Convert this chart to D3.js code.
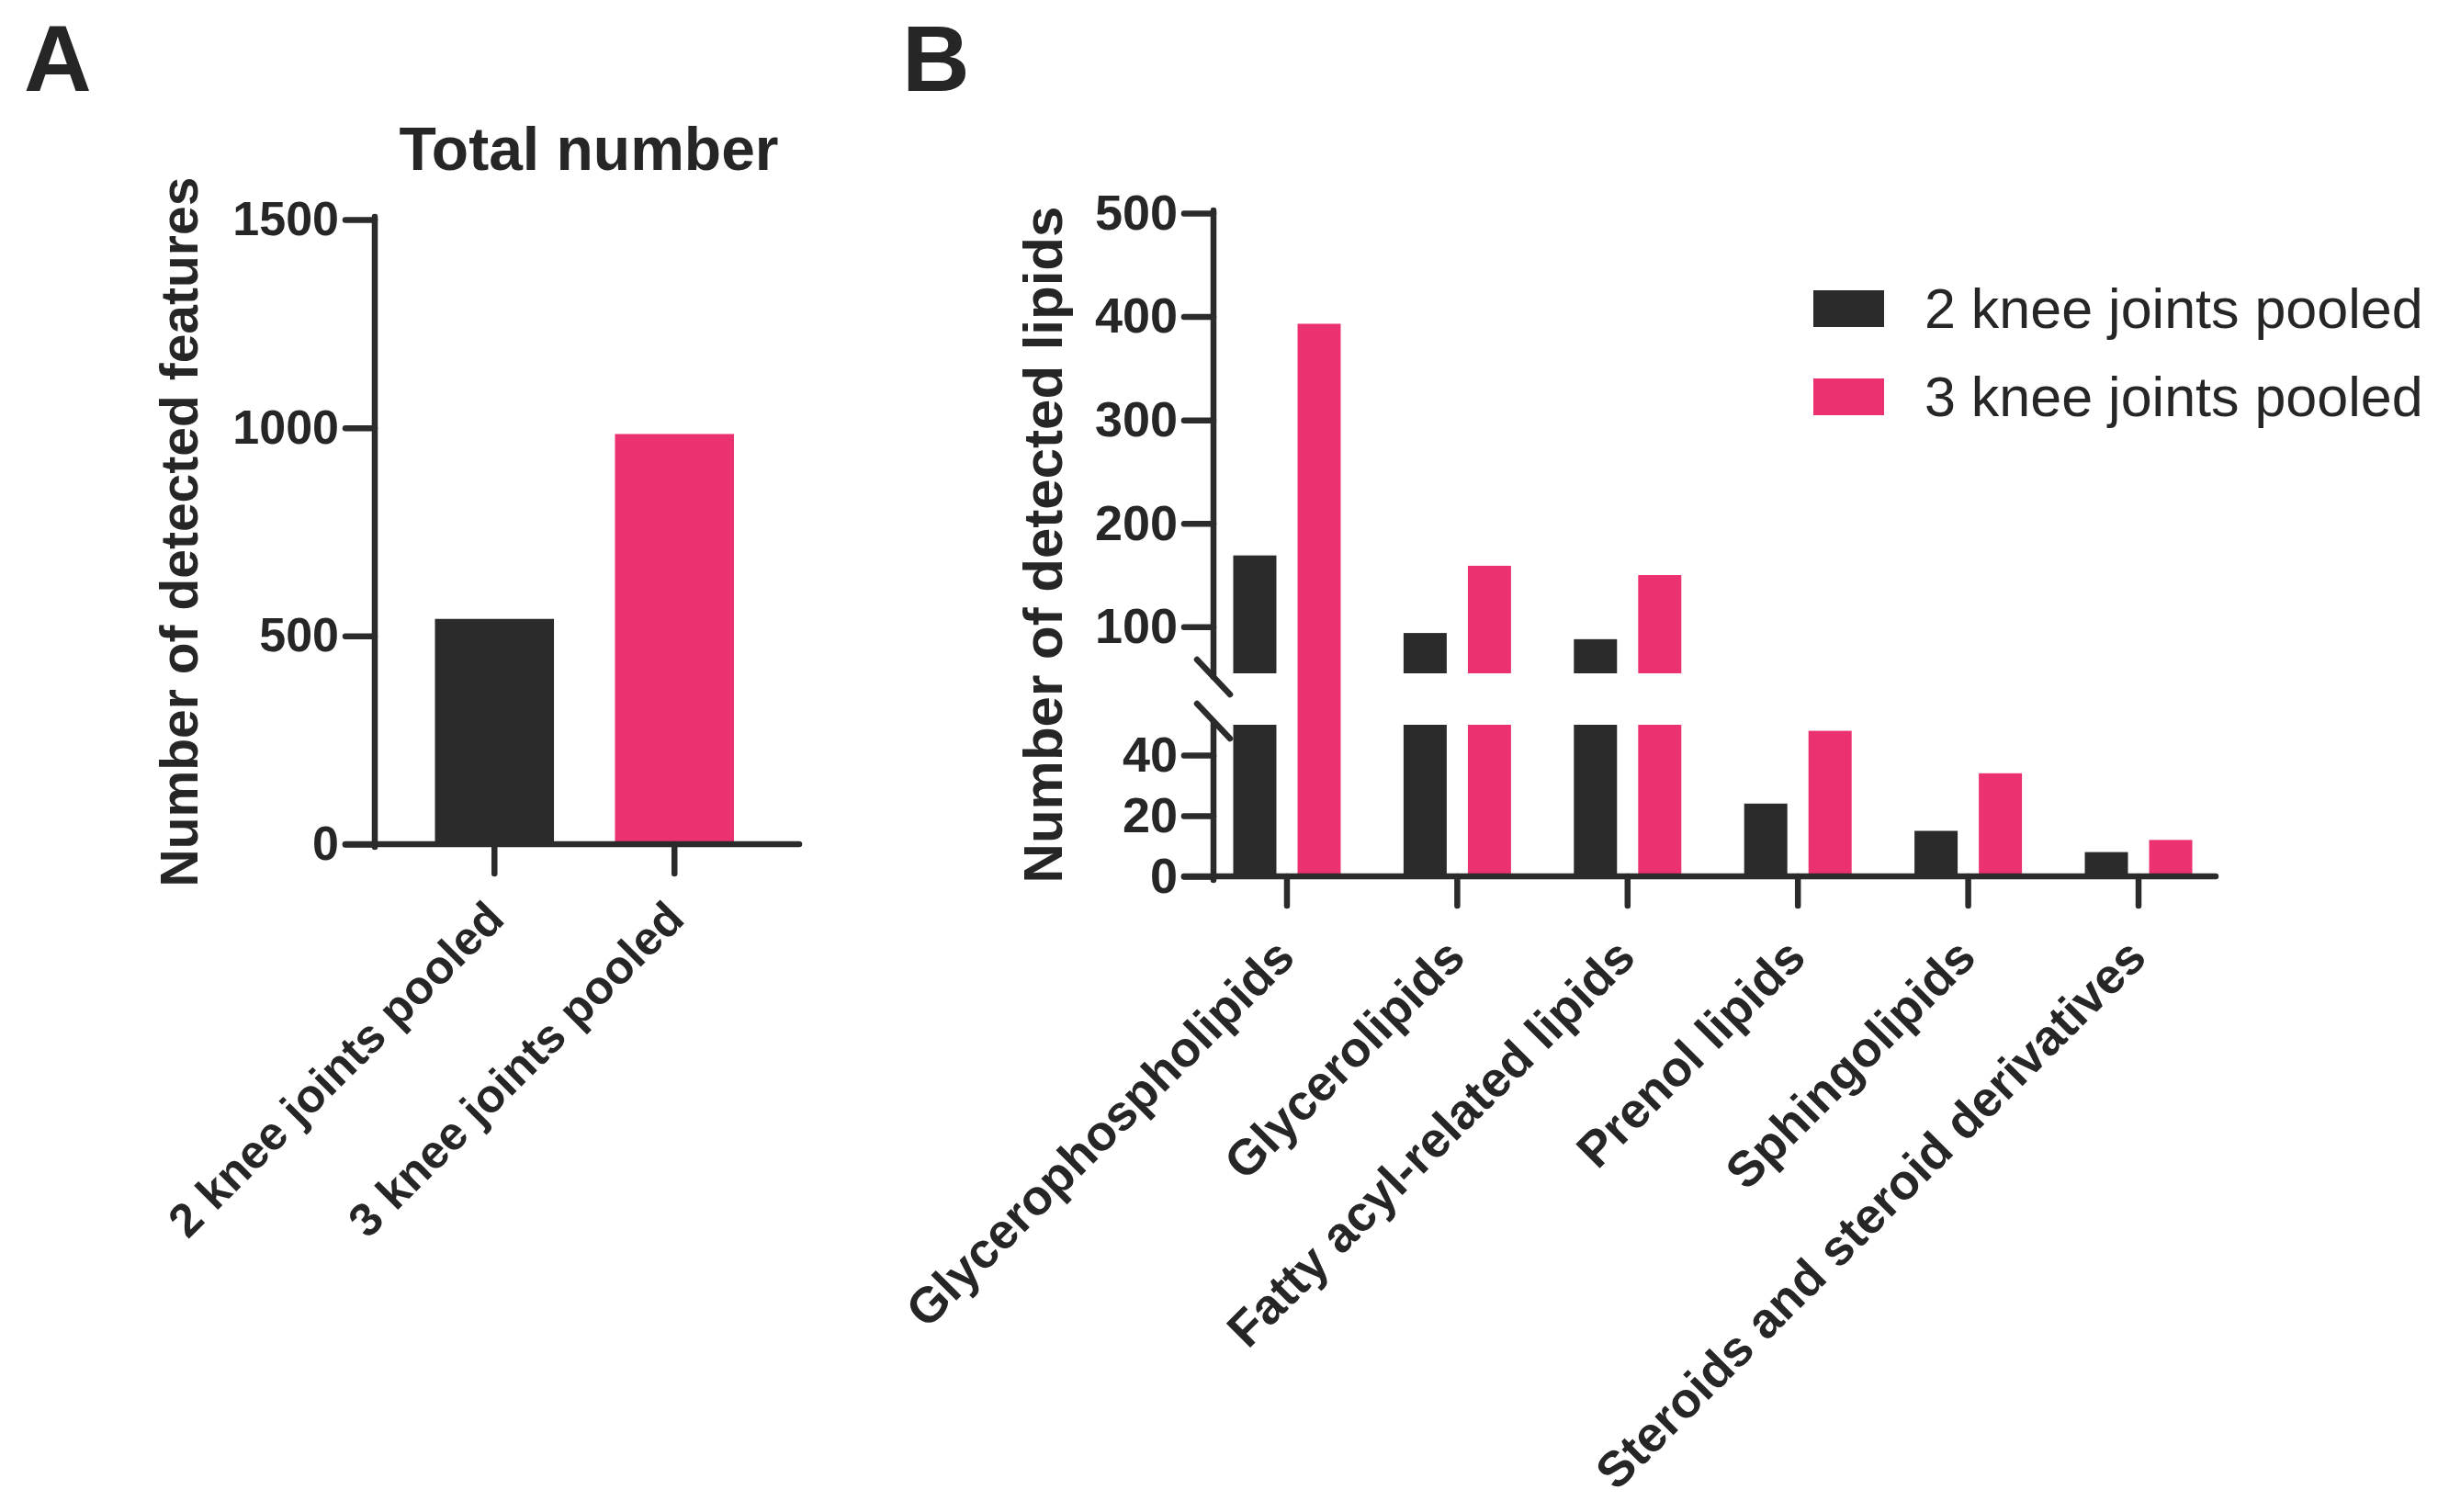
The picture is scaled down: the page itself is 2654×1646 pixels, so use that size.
<!DOCTYPE html>
<html>
<head>
<meta charset="utf-8">
<script src="https://cdn.jsdelivr.net/npm/d3@7/dist/d3.min.js"></script>
<style>
  html, body { margin: 0; padding: 0; background: #fff; }
  svg { display: block; }
  text { font-family: "Liberation Sans", Arial, Helvetica, sans-serif; fill: #262626; }
</style>
</head>
<body>
<svg id="chart" width="2654" height="1646"></svg>
<script>
// ---------------- DATA ----------------
const seriesNames = ["2 knee joints pooled", "3 knee joints pooled"];
const seriesColors = ["#2b2b2b", "#ec3170"];

// Panel A
const totalCategories = ["2 knee joints pooled", "3 knee joints pooled"];
const totalValues = [541, 985];
const totalTicks = [0, 500, 1000, 1500];

// Panel B
const lipidClasses = ["Glycerophospholipids", "Glycerolipids", "Fatty acyl-related lipids",
                      "Prenol lipids", "Sphingolipids", "Steroids and steroid derivatives"];
const lipids2Knee = [169, 94, 88, 24, 15, 8];
const lipids3Knee = [393, 159, 150, 48, 34, 12];
const lowerSegment = [0, 50];
const upperSegment = [55, 500];
const lowerTicks = [0, 20, 40];
const upperTicks = [100, 200, 300, 400, 500];
// bars that the original drew straight through the axis break
const barsThroughBreak = [["Glycerophospholipids", "3 knee joints pooled"]];

// ---------------- DRAW ----------------
const svg = d3.select("#chart");
svg.append("rect").attr("width", 2654).attr("height", 1646).attr("fill", "#fff");

const ink = "#2b2b2b";
const SW = 6.5;
const fmt = d3.format("d");
const color = d3.scaleOrdinal().domain(seriesNames).range(seriesColors);

function styleAxis(g) {
  g.selectAll("line").attr("stroke", ink).attr("stroke-width", SW).attr("stroke-linecap", "round");
  g.selectAll("path.domain").attr("stroke", ink).attr("stroke-width", SW).attr("stroke-linecap", "round");
  g.selectAll("text").attr("fill", ink).style("font-family", '"Liberation Sans", Arial, sans-serif')
    .style("font-weight", "bold");
}

// Panel letters
svg.append("text").attr("x", 26).attr("y", 99).attr("font-size", 102).attr("font-weight", "bold").text("A");
svg.append("text").attr("x", 982).attr("y", 99).attr("font-size", 102).attr("font-weight", "bold").text("B");

// ===== Panel A =====
const axA = 408, bottomA = 919, topA = 239, rightA = 870;
const xA = d3.scaleBand().domain(totalCategories).range([473.5, 799]).paddingInner(0.339).paddingOuter(0);
const yA = d3.scaleLinear().domain([0, 1500]).range([bottomA, topA]);

svg.append("text").attr("x", 641).attr("y", 185).attr("text-anchor", "middle")
  .attr("font-size", 66).attr("font-weight", "bold").text("Total number");

svg.append("g").selectAll("rect").data(totalCategories).join("rect")
  .attr("x", d => xA(d)).attr("width", xA.bandwidth())
  .attr("y", (d, i) => yA(totalValues[i]))
  .attr("height", (d, i) => yA(0) - yA(totalValues[i]))
  .attr("fill", (d, i) => seriesColors[i]);

const gyA = svg.append("g").attr("transform", `translate(${axA},0)`)
  .call(d3.axisLeft(yA).tickValues(totalTicks).tickFormat(fmt).tickSize(32).tickSizeOuter(0).tickPadding(7));
gyA.select("path.domain").remove();
gyA.selectAll("text").attr("font-size", 52);
styleAxis(gyA);
svg.append("line").attr("x1", axA).attr("x2", axA).attr("y1", yA(1500) - 3).attr("y2", bottomA + 3)
  .attr("stroke", ink).attr("stroke-width", SW).attr("stroke-linecap", "round");

svg.append("line").attr("x1", axA - 32).attr("x2", rightA).attr("y1", bottomA).attr("y2", bottomA)
  .attr("stroke", ink).attr("stroke-width", SW).attr("stroke-linecap", "round");

const gxA = svg.append("g").attr("transform", `translate(0,${bottomA})`)
  .call(d3.axisBottom(xA).tickSize(32).tickSizeOuter(0));
gxA.select("path.domain").remove();
styleAxis(gxA);
gxA.selectAll("text").attr("font-size", 51).attr("text-anchor", "end")
  .attr("x", 0).attr("y", 0).attr("dy", null)
  .attr("transform", "translate(13,84) rotate(-45)");

svg.append("text").attr("transform", `translate(215,${(topA + bottomA) / 2}) rotate(-90)`)
  .attr("text-anchor", "middle").attr("font-size", 57).attr("font-weight", "bold")
  .text("Number of detected features");

// ===== Panel B =====
const axB = 1321, bottomB = 954, rightB = 2412;
const yLow = d3.scaleLinear().domain(lowerSegment).range([bottomB, 789]);
const yUp = d3.scaleLinear().domain(upperSegment).range([733, 232]);
const xB = d3.scaleBand().domain(lipidClasses).range([1342.5, 2386.5]).paddingInner(0.369).paddingOuter(0);
const xSub = d3.scaleBand().domain(seriesNames).range([0, xB.bandwidth()]).paddingInner(0.329).paddingOuter(0);

const barData = [];
lipidClasses.forEach((c, i) => {
  [lipids2Knee[i], lipids3Knee[i]].forEach((v, j) => {
    const s = seriesNames[j];
    const through = barsThroughBreak.some(p => p[0] === c && p[1] === s);
    if (v <= lowerSegment[1]) {
      barData.push({c, s, y0: yLow(0), y1: yLow(v)});
    } else if (through) {
      barData.push({c, s, y0: yLow(0), y1: yUp(v)});
    } else {
      barData.push({c, s, y0: yLow(0), y1: yLow(lowerSegment[1])});
      barData.push({c, s, y0: yUp(upperSegment[0]), y1: yUp(v)});
    }
  });
});

svg.append("g").selectAll("rect").data(barData).join("rect")
  .attr("x", d => xB(d.c) + xSub(d.s)).attr("width", xSub.bandwidth())
  .attr("y", d => d.y1).attr("height", d => d.y0 - d.y1)
  .attr("fill", d => color(d.s));

const gUp = svg.append("g").attr("transform", `translate(${axB},0)`)
  .call(d3.axisLeft(yUp).tickValues(upperTicks).tickFormat(fmt).tickSize(32).tickSizeOuter(0).tickPadding(7));
gUp.select("path.domain").remove();
gUp.selectAll("text").attr("font-size", 54);
styleAxis(gUp);
const gLow = svg.append("g").attr("transform", `translate(${axB},0)`)
  .call(d3.axisLeft(yLow).tickValues(lowerTicks).tickFormat(fmt).tickSize(32).tickSizeOuter(0).tickPadding(7));
gLow.select("path.domain").remove();
gLow.selectAll("text").attr("font-size", 54);
styleAxis(gLow);

// axis segments
svg.append("line").attr("x1", axB).attr("x2", axB).attr("y1", yUp(upperSegment[1]) - 3).attr("y2", yUp(upperSegment[0]) + 4)
  .attr("stroke", ink).attr("stroke-width", SW).attr("stroke-linecap", "round");
svg.append("line").attr("x1", axB).attr("x2", axB).attr("y1", yLow(lowerSegment[1]) - 3).attr("y2", bottomB + 4)
  .attr("stroke", ink).attr("stroke-width", SW).attr("stroke-linecap", "round");
// break marks
[yUp(upperSegment[0]) + 4, yLow(lowerSegment[1]) - 4].forEach(yy => {
  svg.append("line").attr("x1", axB - 18).attr("x2", axB + 18).attr("y1", yy - 19).attr("y2", yy + 19)
    .attr("stroke", ink).attr("stroke-width", SW).attr("stroke-linecap", "round");
});

svg.append("line").attr("x1", axB - 32).attr("x2", rightB).attr("y1", bottomB).attr("y2", bottomB)
  .attr("stroke", ink).attr("stroke-width", SW).attr("stroke-linecap", "round");

const gxB = svg.append("g").attr("transform", `translate(0,${bottomB})`)
  .call(d3.axisBottom(xB).tickSize(32).tickSizeOuter(0));
gxB.select("path.domain").remove();
styleAxis(gxB);
gxB.selectAll("text").attr("font-size", 54).attr("text-anchor", "end")
  .attr("x", 0).attr("y", 0).attr("dy", null)
  .attr("transform", "translate(11,91) rotate(-45)");

svg.append("text").attr("transform", `translate(1156,${(232 + bottomB) / 2}) rotate(-90)`)
  .attr("text-anchor", "middle").attr("font-size", 60).attr("font-weight", "bold")
  .text("Number of detected lipids");

// legend
const leg = svg.append("g");
seriesNames.forEach((s, i) => {
  leg.append("rect").attr("x", 1974).attr("y", 316 + i * 96).attr("width", 77).attr("height", 40)
    .attr("fill", color(s));
  leg.append("text").attr("x", 2095).attr("y", 357 + i * 96).attr("font-size", 61).text(s);
});
</script>
</body>
</html>
